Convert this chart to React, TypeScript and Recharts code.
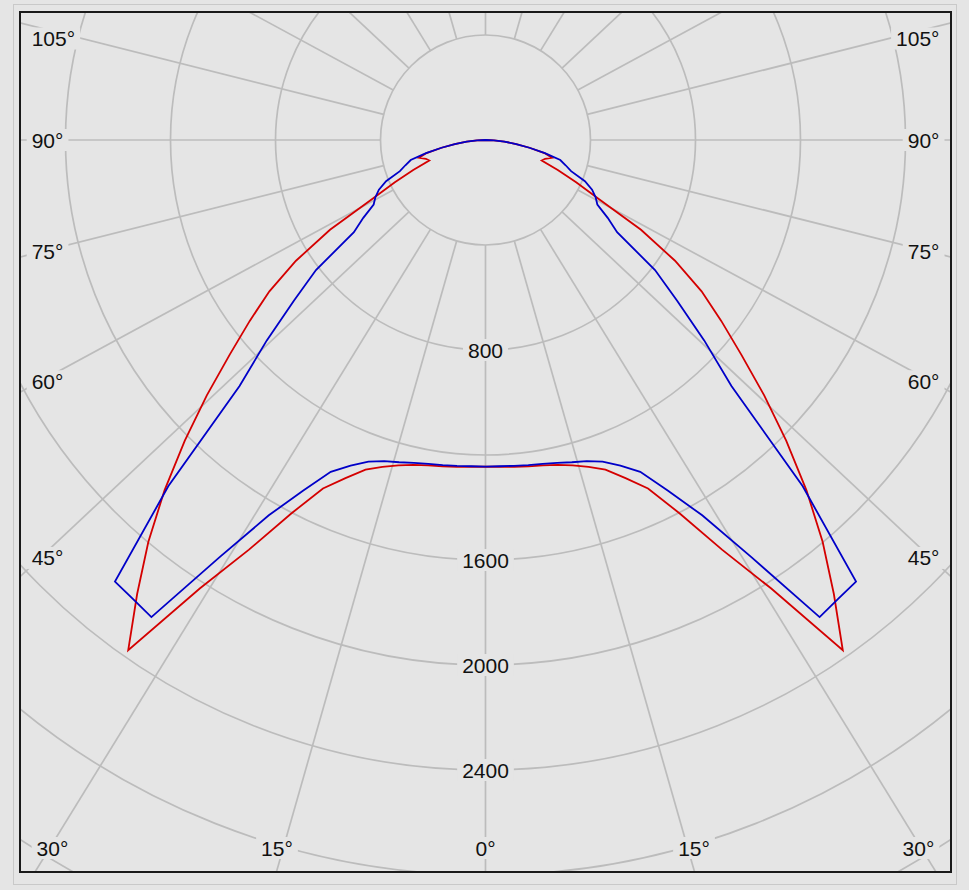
import { RadarChart, Radar, PolarGrid, PolarAngleAxis, PolarRadiusAxis } from "recharts";

// Gamma angles (deg from nadir) of the readings, one C-plane half
const GAMMA = [
  0, 2.5, 5, 7.5, 10, 12.5, 15, 17.5, 20, 22.5, 25, 27.5, 30, 32.5, 35, 37.5, 40, 42.5,
  45, 47.5, 50, 52.5, 55, 57.5, 60, 62.5, 65, 67.5, 70, 72.5, 75, 77.5, 80, 82.5, 85, 87.5, 90,
];

// Luminous intensity (cd), red = C0/C180, blue = C90/C270 (both planes symmetric)
const RED_C0 = [
  1244, 1246, 1250, 1254, 1259, 1268, 1283, 1306, 1336, 1394, 1465, 1605, 1802, 2026, 2373, 2180, 1998, 1810,
  1620, 1440, 1272, 1132, 1005, 856, 684, 488, 381, 298, 228, 238, 262, 230, 170, 118, 72, 32, 0,
];
const BLUE_C90 = [
  1244, 1244, 1246, 1249, 1253, 1260, 1271, 1283, 1304, 1343, 1395, 1506, 1651, 1883, 2219, 2205, 2196, 1788,
  1325, 1130, 953, 814, 612, 552, 492, 473, 448, 410, 347, 320, 295, 232, 170, 118, 72, 32, 0,
];
// above 90 deg there is no light at all

const GRID_GAMMA = [0, 15, 30, 45, 60, 75, 90, 105, 120, 135, 150, 165, 180];
const LABEL_GAMMA = [0, 15, 30, 45, 60, 75, 90, 105];
const RING_VALUES = [400, 800, 1200, 1600, 2000, 2400, 2800, 3200, 3600];
const RING_LABELS = [800, 1600, 2000, 2400];

const W = 933;
const H = 862;
const CX = 466.5;
const CY = 129;
const PX_PER_CD = 0.2625;
const K = 1.066; // the original grid is drawn slightly stretched sideways
const BG = "#e5e5e5";
const GRID = "#bcbcbc";
const FONT = '"Liberation Sans", Arial, sans-serif';
const FS = 21;

const rad = (d: number) => (d * Math.PI) / 180;

const rows: { angle: number; red: number; blue: number }[] = [];
for (let i = 0; i < 144; i++) {
  const a = i * 2.5;
  const gamma = a <= 180 ? a : 360 - a;
  const idx = GAMMA.indexOf(gamma);
  rows.push({
    angle: a,
    red: idx >= 0 ? RED_C0[idx] : 0,
    blue: idx >= 0 ? BLUE_C90[idx] : 0,
  });
}

function gridAngle(gamma: number, side: number) {
  const g = (Math.atan2(K * Math.sin(rad(gamma)), Math.cos(rad(gamma))) * 180) / Math.PI;
  return side < 0 ? -90 - g : -90 + g;
}

const gridAngles: number[] = [];
for (const g of GRID_GAMMA) {
  gridAngles.push(gridAngle(g, -1));
  if (g !== 0 && g !== 180) gridAngles.push(gridAngle(g, 1));
}

function textWidth(s: string) {
  let w = 0;
  for (const c of s) w += c === "°" ? 0.4 * FS : 0.556 * FS;
  return w;
}

function Label({ x, y, text, anchor }: { x: number; y: number; text: string; anchor: "start" | "middle" | "end" }) {
  const w = textWidth(text);
  const left = anchor === "start" ? x : anchor === "end" ? x - w : x - w / 2;
  return (
    <g>
      <rect x={left - 5} y={y - 11} width={w + 10} height={22} fill={BG} />
      <text x={x} y={y} textAnchor={anchor} dominantBaseline="central" fontSize={FS} fontFamily={FONT} fill="#111">
        {text}
      </text>
    </g>
  );
}

function AngleTick(props: any) {
  const v = Number(props.payload?.value);
  const gamma = v <= 180 ? v : 360 - v;
  if (!LABEL_GAMMA.includes(gamma)) return null;
  const side = v <= 180 ? -1 : 1;
  const dx = side * K * Math.sin(rad(gamma));
  const dy = Math.cos(rad(gamma));
  const tx = Math.abs(dx) < 1e-9 ? Infinity : ((side < 0 ? 0 : W) - CX) / dx;
  const ty = dy > 1e-9 ? (H - CY) / dy : dy < -1e-9 ? -CY / dy : Infinity;
  const text = `${gamma}°`;
  if (ty < tx) {
    const bx = CX + dx * ((H - 3 - CY) / dy);
    return <Label x={Math.min(Math.max(bx, 33.5), W - 33.5)} y={H - 25} text={text} anchor="middle" />;
  }
  const xr = side < 0 ? 21 : W - 21;
  const sy = CY + dy * ((xr - CX) / dx);
  return side < 0 ? (
    <Label x={12.7} y={Math.max(sy, 27.5)} text={text} anchor="start" />
  ) : (
    <Label x={W - 12.5} y={Math.max(sy, 27.5)} text={text} anchor="end" />
  );
}

function RadiusTick(props: any) {
  const v = Number(props.payload?.value);
  if (!RING_LABELS.includes(v)) return null;
  return <Label x={props.x} y={props.y} text={String(v)} anchor="middle" />;
}

export default function App() {
  return (
    <div style={{ position: "absolute", left: 0, top: 0, width: 969, height: 890, background: BG }}>
      <div
        style={{
          position: "absolute",
          left: 13,
          top: 4,
          width: 944,
          height: 881,
          border: "1px solid #c9c9c9",
          boxSizing: "border-box",
        }}
      />
      <div style={{ position: "absolute", left: 19, top: 11, width: W, height: H, overflow: "hidden" }}>
        <RadarChart
          width={W}
          height={H}
          data={rows}
          cx={CX}
          cy={CY}
          innerRadius={400 * PX_PER_CD}
          outerRadius={3600 * PX_PER_CD}
          startAngle={-90}
          endAngle={-450}
          margin={{ top: 0, right: 0, bottom: 0, left: 0 }}
        >
          <PolarGrid gridType="circle" polarAngles={gridAngles} stroke={GRID} strokeWidth={1.7} />
          <Radar dataKey="red" stroke="#d40000" strokeWidth={1.8} fill="none" fillOpacity={0} isAnimationActive={false} />
          <Radar dataKey="blue" stroke="#0000c8" strokeWidth={1.8} fill="none" fillOpacity={0} isAnimationActive={false} />
          <PolarAngleAxis dataKey="angle" type="category" axisLine={false} tickLine={false} tick={AngleTick} />
          <PolarRadiusAxis
            angle={-90}
            type="number"
            domain={[400, 3600]}
            allowDataOverflow
            ticks={RING_VALUES}
            tickCount={9}
            axisLine={false}
            stroke="none"
            tick={RadiusTick}
          />
        </RadarChart>
      </div>
      <div
        style={{
          position: "absolute",
          left: 19,
          top: 11,
          width: W,
          height: H,
          border: "2px solid #1a1a1a",
          boxSizing: "border-box",
          pointerEvents: "none",
        }}
      />
    </div>
  );
}
